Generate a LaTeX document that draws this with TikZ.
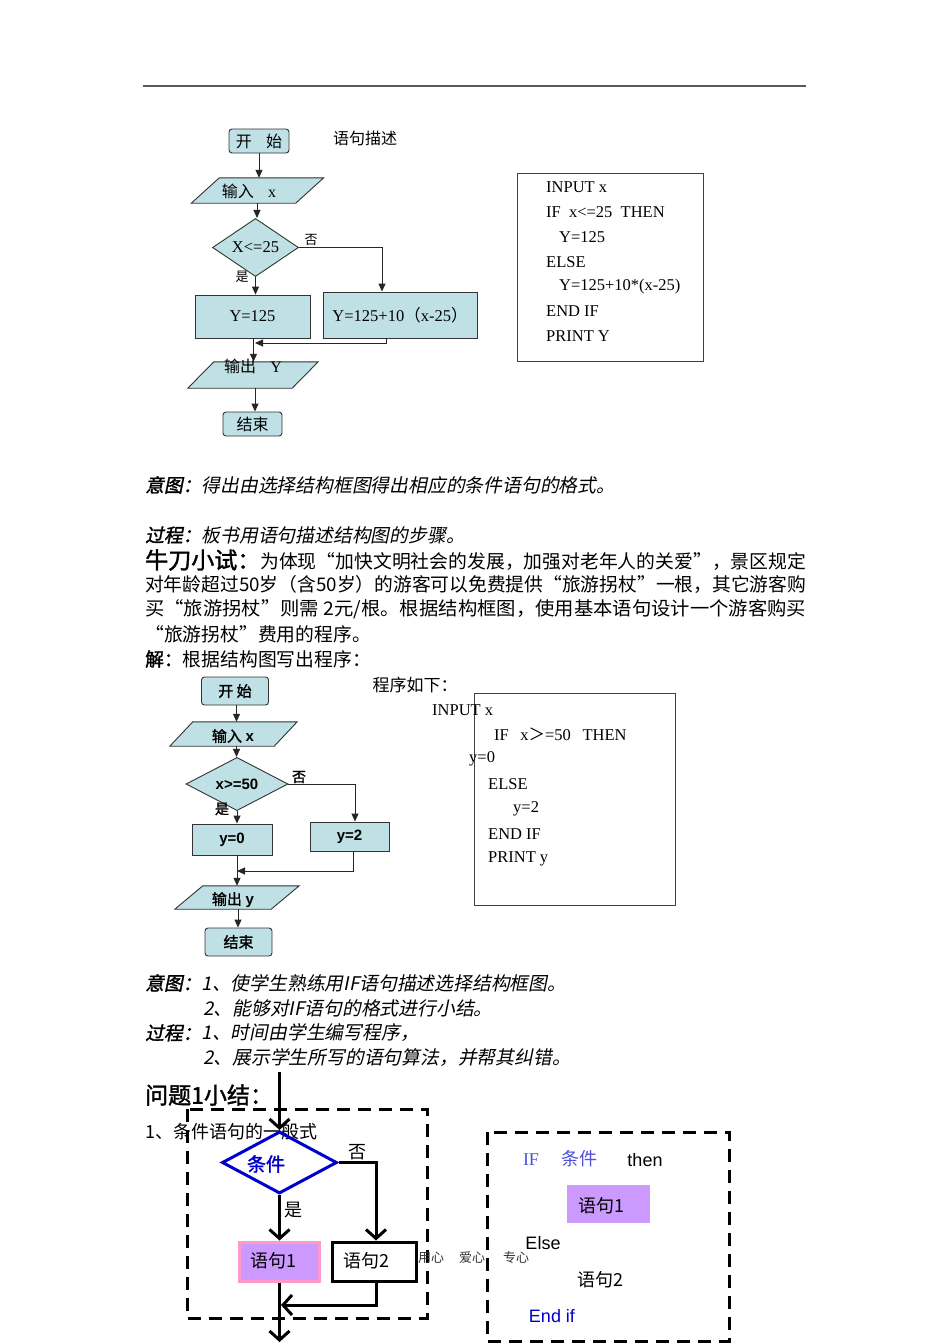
\documentclass[tikz,border=0pt]{standalone}
\usepackage{graphicx}
\usepackage{fontspec}
\setmainfont{Liberation Serif}
\setsansfont{Liberation Sans}
\newfontfamily\cjk{Noto Sans CJK SC}
\newfontfamily\cjkb{Noto Sans CJK SC}[FakeBold=1.6]
\newfontfamily\cjki{Noto Sans CJK SC}[FakeSlant=0.2]
\newfontfamily\cjkbi{Noto Sans CJK SC}[FakeSlant=0.2,FakeBold=1.6]
\usetikzlibrary{shapes.geometric,arrows.meta,calc}
\newcommand\fsz[1]{\fontsize{#1}{#1}\selectfont}
\definecolor{cyanfill}{RGB}{191,224,228}
\definecolor{purp}{RGB}{204,153,255}
\definecolor{pinkb}{RGB}{255,153,204}
\definecolor{dblue}{RGB}{0,0,204}
\definecolor{lblue}{RGB}{80,80,220}
\begin{document}
\begin{tikzpicture}[x=1pt,y=-1pt,
  fc/.style={draw=black!80, fill=cyanfill, line width=0.9pt},
  rbox/.style={fc, rounded corners=3pt, inner sep=0pt},
  pbox/.style={fc, inner sep=0pt},
  ghost/.style={inner sep=0pt},
  lbl/.style={inner sep=0pt},
  arr/.style={draw=black!85, line width=1pt, -{Triangle[length=8pt,width=7pt]}},
  cline/.style={draw=black!85, line width=1pt},
  codeA/.style={inner sep=0pt, anchor=west, font=\fsz{16.5}},
  codebox/.style={draw=black!75, line width=0.9pt, inner sep=0pt},
  para/.style={inner sep=0pt, anchor=west},
  thk/.style={line width=3pt},
  varr/.style={line width=3pt, -{Straight Barb[length=9pt,width=20pt]}},
  dbox/.style={line width=3pt, dash pattern=on 13pt off 8pt}
]
\useasboundingbox (0,0) rectangle (950,1344);
\fill[white] (0,0) rectangle (950,1344);

% header rule
\draw[black!65, line width=1.4pt] (143,86) -- (806,86);

% ================= flowchart 1 =================
\node[rbox, minimum width=60, minimum height=24, font=\cjk\fsz{16}] (s1) at (259,141) {开\hspace{0.9em}始};
\node[lbl, font=\cjk\fsz{16}] (t1) at (365,138) {语句描述};

\node[ghost, minimum width=104, minimum height=25] (in1) at (257.5,190.5) {};
\draw[fc] ([xshift=14pt]in1.north west) -- ([xshift=14pt]in1.north east) -- ([xshift=-14pt]in1.south east) -- ([xshift=-14pt]in1.south west) -- cycle;
\node[lbl, font=\fsz{16}] (in1t) at (249,191) {{\cjk 输入}\hspace{0.9em}x};

\node[diamond, fc, inner sep=0pt, minimum width=86, minimum height=41, font=\fsz{16.5}] (d1) at (255.5,247.5) {X<=25};
\node[lbl, font=\cjk\fsz{13}] (no1) at (311,240) {否};
\node[lbl, font=\cjk\fsz{13}] (yes1) at (242,277) {是};

\node[pbox, minimum width=115, minimum height=43, font=\fsz{16.5}] (b1) at (252.5,316.5) {Y=125};
\node[pbox, minimum width=154, minimum height=46, font=\fsz{16.5}] (b2) at (400,315) {Y=125+10{\cjk （}x-25{\cjk ）}};

\node[ghost, minimum width=104, minimum height=26] (out1) at (253,375) {};
\draw[fc] ([xshift=13pt]out1.north west) -- ([xshift=13pt]out1.north east) -- ([xshift=-13pt]out1.south east) -- ([xshift=-13pt]out1.south west) -- cycle;
\node[lbl, font=\fsz{16}] (out1t) at (253,366) {{\cjk 输出}\hspace{0.9em}Y};

\node[rbox, minimum width=59, minimum height=24, font=\cjk\fsz{16}] (e1) at (252.5,424) {结束};

\draw[arr] (s1.south) -- (s1.south |- in1.north);
\draw[arr] ([xshift=-0.5pt]in1.south) -- ([xshift=-0.5pt]in1.south |- d1.north);
\draw[arr] (d1.east) -| ([xshift=-18pt]b2.north);
\draw[arr] (d1.south) -- (d1.south |- b1.north);
\coordinate (m1) at (255,343);
\draw[arr] ([xshift=-14pt]b2.south) |- (m1);
\draw[arr] ([xshift=1pt]b1.south) -- ([xshift=1pt]b1.south |- out1.north);
\draw[arr] ([xshift=2pt]out1.south) -- ([xshift=2pt]out1.south |- e1.north);

% code box 1
\node[codebox, minimum width=186, minimum height=188] (cb1) at (610,267) {};
\node[codeA] (c1a) at (546,187) {INPUT x};
\node[codeA] (c1b) at (546,212) {IF\hspace{0.5em}x<=25\hspace{0.5em}THEN};
\node[codeA] (c1c) at (559,237) {Y=125};
\node[codeA] (c1d) at (546,262) {ELSE};
\node[codeA] (c1e) at (559,287) {Y=125+10*(x-25)};
\node[codeA] (c1f) at (546,311) {END IF};
\node[codeA] (c1g) at (546,336) {PRINT Y};

% ================= text block 1 =================
\node[para, font=\fsz{18.8}] (p1) at (145,485) {{\cjkbi 意图：}{\cjki 得出由选择结构框图得出相应的条件语句的格式。}};
\node[para, font=\fsz{18.8}] (p2) at (145,535) {{\cjkbi 过程：}{\cjki 板书用语句描述结构图的步骤。}};
\node[para] (p3) at (145,560) {\resizebox{661pt}{\height}{{\cjkb\fsz{23}牛刀小试：}{\cjk\fsz{18.8}为体现“加快文明社会的发展，加强对老年人的关爱”，景区规定}}};
\node[para] (p4) at (145,584) {\resizebox{661pt}{\height}{\cjk\fsz{18.8}对年龄超过50岁（含50岁）的游客可以免费提供“旅游拐杖”一根，其它游客购}};
\node[para] (p5) at (145,609) {\resizebox{661pt}{\height}{\cjk\fsz{18.8}买“旅游拐杖”则需 2元/根。根据结构框图，使用基本语句设计一个游客购买}};
\node[para, font=\cjk\fsz{18.8}] (p6) at (145,634) {“旅游拐杖”费用的程序。};
\node[para, font=\fsz{18.8}] (p7) at (145,659) {{\cjkb 解：}{\cjk 根据结构图写出程序：}};

% ================= flowchart 2 =================
\node[rbox, minimum width=67, minimum height=28, font=\cjkb\fsz{15}] (s2) at (235,691) {开 始};

\node[ghost, minimum width=104, minimum height=24] (in2) at (233.5,734) {};
\draw[fc] ([xshift=11.5pt]in2.north west) -- ([xshift=11.5pt]in2.north east) -- ([xshift=-11.5pt]in2.south east) -- ([xshift=-11.5pt]in2.south west) -- cycle;
\node[lbl, font=\fsz{15}] (in2t) at (233,736) {{\cjkb 输入} {\sffamily\bfseries x}};

\node[diamond, fc, inner sep=0pt, minimum width=102, minimum height=42, font=\sffamily\bfseries\fsz{15}] (d2) at (237,784) {x>=50};
\node[lbl, font=\cjkb\fsz{14}] (no2) at (299,777) {否};
\node[lbl, font=\cjkb\fsz{14}] (yes2) at (222,809) {是};

\node[pbox, minimum width=80, minimum height=31, font=\sffamily\bfseries\fsz{15}] (b3) at (232,839.5) {y=0};
\node[pbox, minimum width=79, minimum height=29, font=\sffamily\bfseries\fsz{15}] (b4) at (349.5,836.5) {y=2};

\node[ghost, minimum width=96, minimum height=23] (out2) at (237,897.5) {};
\draw[fc] ([xshift=14pt]out2.north west) -- ([xshift=14pt]out2.north east) -- ([xshift=-14pt]out2.south east) -- ([xshift=-14pt]out2.south west) -- cycle;
\node[lbl, font=\fsz{15}] (out2t) at (233,900) {{\cjkb 输出} {\sffamily\bfseries y}};

\node[rbox, minimum width=67, minimum height=28, font=\cjkb\fsz{15}] (e2) at (238.5,942) {结束};

\draw[arr] ([xshift=1.5pt]s2.south) -- ([xshift=1.5pt]s2.south |- in2.north);
\draw[arr] ([xshift=3pt]in2.south) -- ([xshift=3pt]in2.south |- d2.north);
\draw[arr] (d2.east) -| ([xshift=5.5pt]b4.north);
\draw[arr] (d2.south) -- (d2.south |- b3.north);
\coordinate (m2) at (237,871);
\draw[arr] ([xshift=3.5pt]b4.south) |- (m2);
\draw[arr] ([xshift=5pt]b3.south) -- ([xshift=5pt]b3.south |- out2.north);
\draw[arr] ([xshift=1pt]out2.south) -- ([xshift=1pt]out2.south |- e2.north);

\node[lbl, font=\cjk\fsz{17}] (t2) at (415,685) {程序如下：};

% code box 2
\node[codebox, minimum width=201, minimum height=212] (cb2) at (574.5,799) {};
\node[codeA] (c2a) at (432,710) {INPUT x};
\node[codeA] (c2b) at (494,734) {IF\hspace{0.7em}x{\cjk ＞}=50\hspace{0.7em}THEN};
\node[codeA] (c2c) at (469,759) {y=0};
\node[codeA] (c2d) at (488,784) {ELSE};
\node[codeA] (c2e) at (513,809) {y=2};
\node[codeA] (c2f) at (488,834) {END IF};
\node[codeA] (c2g) at (488,859) {PRINT y};

% ================= text block 2 =================
\node[para, font=\fsz{18.8}] (q1) at (145,983) {{\cjkbi 意图：}{\cjki 1、使学生熟练用IF语句描述选择结构框图。}};
\node[para, font=\cjki\fsz{18.8}] (q2) at (203,1008) {2、能够对IF语句的格式进行小结。};
\node[para, font=\fsz{18.8}] (q3) at (145,1033) {{\cjkbi 过程：}{\cjki 1、时间由学生编写程序，}};
\node[para, font=\cjki\fsz{18.8}] (q4) at (203,1058) {2、展示学生所写的语句算法，并帮其纠错。};

% ================= bottom section =================
\node[para, font=\cjkb\fsz{23}] (h1) at (145,1095) {问题1小结：};
\node[para, font=\cjk\fsz{18}] (h2) at (145,1132) {1、条件语句的一般式};

\draw[dbox] (187,1109) rectangle (427,1318);

\node[diamond, draw=dblue, line width=3pt, inner sep=0pt, minimum width=115, minimum height=62] (d3) at (279.5,1162.5) {};
\node[lbl, font=\cjkb\fsz{19}, text=dblue] (d3t) at (266,1164) {条件};
\node[lbl, font=\cjk\fsz{18}] (no3) at (357,1152) {否};
\node[lbl, font=\cjk\fsz{18}] (yes3) at (293,1210) {是};

\node[draw=pinkb, fill=purp, line width=3pt, inner sep=0pt, minimum width=80, minimum height=39] (b5) at (279,1261.5) {};
\node[lbl, font=\cjk\fsz{18}] (b5t) at (273,1261) {语句1};
\node[draw=black, fill=white, line width=3pt, inner sep=0pt, minimum width=84, minimum height=39] (b6) at (374,1261.5) {};
\node[lbl, font=\cjk\fsz{18}] (b6t) at (366,1261) {语句2};

\coordinate (top3) at (279.5,1072);
\draw[varr] (top3) -- (d3.north);
\draw[varr] (d3.east) -| ([xshift=2pt]b6.north);
\draw[varr] (d3.south) -- (d3.south |- b5.north);
\coordinate (m3) at (281,1305);
\draw[varr] ([xshift=2pt]b6.south) |- (m3);
\coordinate (bot3) at (279.5,1342);
\draw[varr] ([xshift=0.5pt]b5.south) -- (bot3);

\node[para, font=\cjk\fsz{13}, text=black!80] (ft) at (418,1258) {用心\hspace{15pt}爱心\hspace{18pt}专心};

\draw[dbox] (487,1132) rectangle (729,1341);
\node[lbl, font=\fsz{18}, text=lblue] (r1) at (531,1160) {IF};
\node[lbl, font=\cjk\fsz{18}, text=lblue] (r2) at (579,1159) {条件};
\node[lbl, font=\sffamily\fsz{18}] (r3) at (645,1160) {then};
\node[fill=purp, inner sep=0pt, minimum width=83, minimum height=38] (b7) at (608.5,1204) {};
\node[lbl, font=\cjk\fsz{18}] (b7t) at (601,1206) {语句1};
\node[lbl, font=\sffamily\fsz{18}] (r4) at (543,1243) {Else};
\node[lbl, font=\cjk\fsz{18}] (r5) at (600,1280) {语句2};
\node[lbl, font=\sffamily\fsz{18}, text=dblue] (r6) at (552,1316) {End if};
\end{tikzpicture}
\end{document}
